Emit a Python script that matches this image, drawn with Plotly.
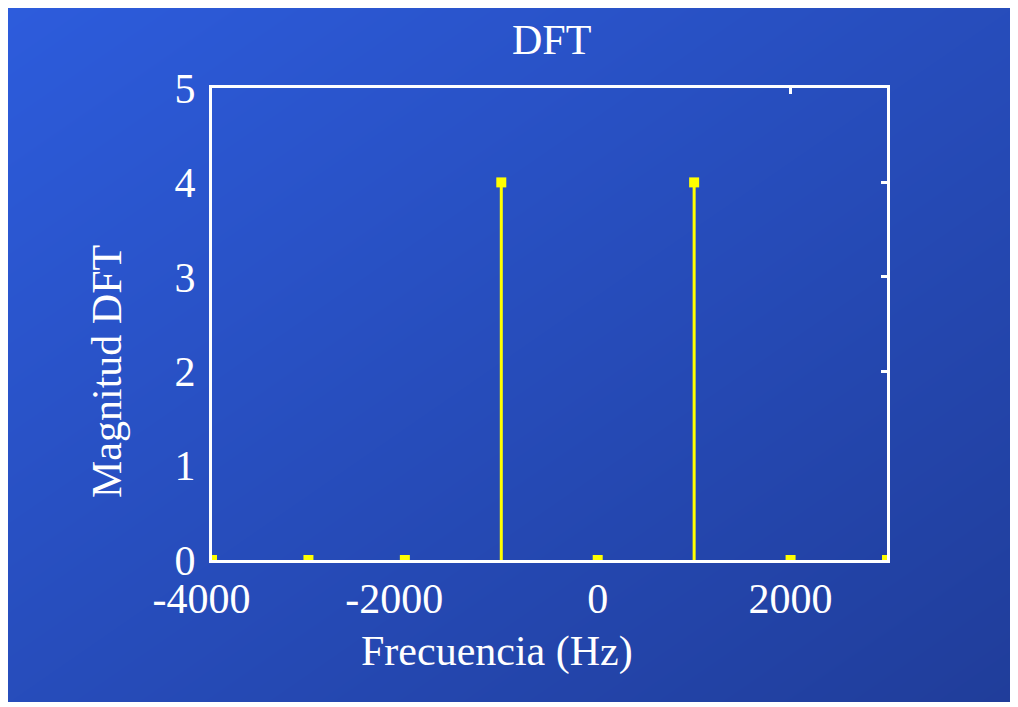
import plotly.graph_objects as go

# ---- data ----
freqs = [-4000, -3000, -2000, -1000, 0, 1000, 2000, 3000]
mags = [0, 0, 0, 4, 0, 4, 0, 0]
x_ticks = [-4000, -2000, 0, 2000]
y_ticks = [0, 1, 2, 3, 4, 5]
top_ticks = [2000]
right_ticks = [2, 3, 4]
title_text = "DFT"
x_title = "Frecuencia (Hz)"
y_title = "Magnitud DFT"

FONT = "Liberation Serif, Times New Roman, serif"
YEL = "#FFFF00"
OFF = 8  # page body margin
W, H = 1004, 694


def px_x(p):
    return (p - OFF) / W


def px_y(p):
    return (OFF + H - p) / H


def fmt_tick(v):
    # negative labels sit slightly left of their tick in the original
    return str(v) if v >= 0 else "-" + str(-v) + "\u00a0\u00a0"


fig = go.Figure()

# background gradient (diagonal, light top-left -> dark bottom-right)
fig.add_trace(go.Heatmap(
    x=[0, 1], y=[0, 1], z=[[1, 2], [0, 1]], zmin=0, zmax=2,
    colorscale=[[0, "#2D5CDC"], [1, "#203D9A"]], zsmooth="best",
    showscale=False, hoverinfo="skip", xaxis="x", yaxis="y"))

# stems
sx, sy = [], []
for f, m in zip(freqs, mags):
    sx += [f, f, None]
    sy += [0, m, None]
fig.add_trace(go.Scatter(x=sx, y=sy, mode="lines",
                         line=dict(color=YEL, width=3),
                         xaxis="x2", yaxis="y2", hoverinfo="skip",
                         showlegend=False))
fig.add_trace(go.Scatter(x=freqs, y=mags, mode="markers",
                         marker=dict(color=YEL, size=10, symbol="square"),
                         xaxis="x2", yaxis="y2", showlegend=False))
# invisible traces to create overlay axes (top / right box sides)
fig.add_trace(go.Scatter(x=freqs, y=mags, mode="markers",
                         marker=dict(opacity=0), xaxis="x3", yaxis="y2",
                         hoverinfo="skip", showlegend=False))
fig.add_trace(go.Scatter(x=freqs, y=mags, mode="markers",
                         marker=dict(opacity=0), xaxis="x2", yaxis="y3",
                         hoverinfo="skip", showlegend=False))

xdom = [px_x(212), px_x(887)]
ydom = [px_y(560), px_y(88)]
xr = [-4000, 3000]
yr = [0, 5]

fig.update_layout(
    width=W, height=H,
    margin=dict(l=0, r=0, t=0, b=0, pad=0, autoexpand=False),
    paper_bgcolor="white", plot_bgcolor="rgba(0,0,0,0)",
    showlegend=False,
    font=dict(family=FONT, color="white", size=42),
    xaxis=dict(domain=[0, 1], range=[0, 1], visible=False, fixedrange=True,
               automargin=False),
    yaxis=dict(domain=[0, 1], range=[0, 1], visible=False, fixedrange=True,
               automargin=False),
    xaxis2=dict(domain=xdom, range=xr, anchor="y2", tickvals=x_ticks,
                ticktext=[fmt_tick(v) for v in x_ticks],
                ticks="", showgrid=False, zeroline=False, showline=True,
                linecolor="white", linewidth=3, automargin=False,
                tickfont=dict(family=FONT, size=42, color="white")),
    yaxis2=dict(domain=ydom, range=yr, anchor="x2", tickvals=y_ticks,
                ticks="", showgrid=False, zeroline=False, showline=True,
                linecolor="white", linewidth=3, automargin=False,
                ticklabelstandoff=5,
                tickfont=dict(family=FONT, size=42, color="white")),
    xaxis3=dict(overlaying="x2", side="top", anchor="y2", range=xr,
                tickvals=top_ticks, ticks="inside", ticklen=6, tickwidth=3,
                tickcolor="white", showticklabels=False, showgrid=False,
                zeroline=False, showline=True, linecolor="white", linewidth=3,
                automargin=False),
    yaxis3=dict(overlaying="y2", side="right", anchor="x2", range=yr,
                tickvals=right_ticks, ticks="inside", ticklen=6, tickwidth=3,
                tickcolor="white", showticklabels=False, showgrid=False,
                zeroline=False, showline=True, linecolor="white", linewidth=3,
                automargin=False),
    annotations=[
        dict(text=title_text, x=px_x(551), y=px_y(40), xref="paper",
             yref="paper", xanchor="center", yanchor="middle",
             showarrow=False, font=dict(family=FONT, size=42, color="white")),
        dict(text=x_title, x=px_x(497), y=px_y(651), xref="paper",
             yref="paper", xanchor="center", yanchor="middle",
             showarrow=False, font=dict(family=FONT, size=42, color="white")),
        dict(text=y_title, x=px_x(107), y=px_y(372), xref="paper",
             yref="paper", xanchor="center", yanchor="middle", textangle=-90,
             showarrow=False, font=dict(family=FONT, size=42, color="white")),
    ],
)

fig.write_html("out.html")
